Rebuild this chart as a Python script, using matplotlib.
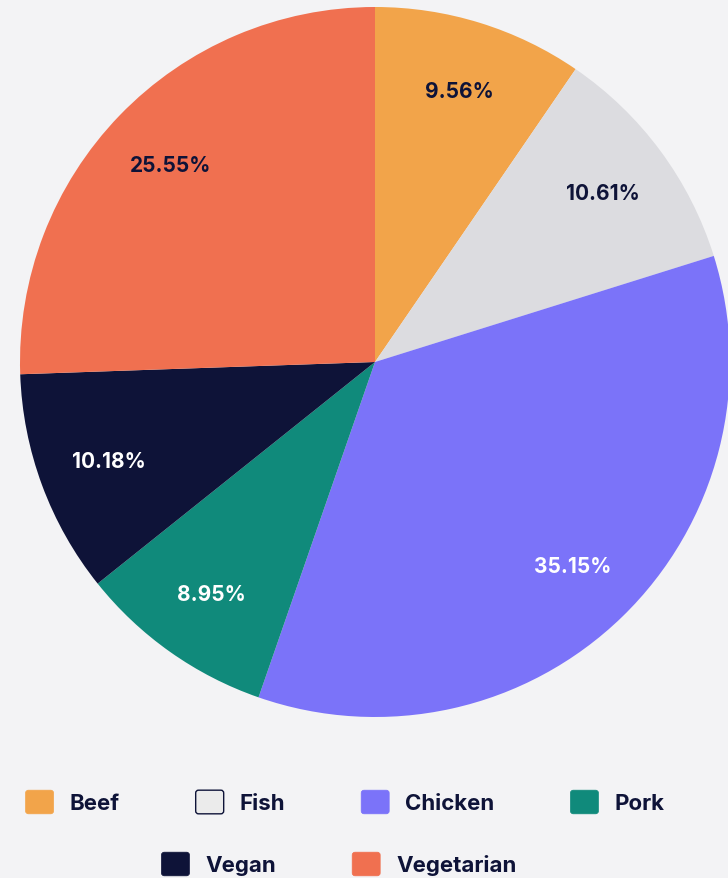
import matplotlib
matplotlib.use('Agg')
import matplotlib.pyplot as plt
from matplotlib.patches import FancyBboxPatch, Patch
from matplotlib.legend_handler import HandlerPatch

# ---- data ----
categories = ['Beef', 'Fish', 'Chicken', 'Pork', 'Vegan', 'Vegetarian']
shares = [9.56, 10.61, 35.15, 8.95, 10.18, 25.55]

# ---- styles ----
colors = ['#F2A44A', '#DCDCE0', '#7B73F9', '#108A7B', '#0E1338', '#F07050']
legend_colors = ['#F2A44A', '#EBEBEB', '#7B73F9', '#108A7B', '#0E1338', '#F07050']
label_colors = ['#0E1338', '#0E1338', 'white', 'white', 'white', '#0E1338']
navy = '#0E1338'
bg = '#F3F3F5'

plt.rcParams['font.family'] = ['Inter', 'DejaVu Sans']

fig = plt.figure(figsize=(7.28, 8.79), dpi=100, facecolor=bg)
ax = fig.add_axes([20 / 728, 161 / 879, 710 / 728, 710 / 879])
ax.set_facecolor('none')

wedges, texts, autotexts = ax.pie(
    shares, colors=colors, startangle=90, counterclock=False,
    autopct='%.2f%%', pctdistance=0.8, radius=1,
    wedgeprops=dict(linewidth=0),
    textprops=dict(fontsize=15, fontweight='bold'))
for t, c in zip(autotexts, label_colors):
    t.set_color(c)
ax.set_xlim(-1, 1)
ax.set_ylim(-1, 1)
ax.set_aspect('equal')


class RoundHandler(HandlerPatch):
    def create_artists(self, legend, orig_handle, xdescent, ydescent,
                       width, height, fontsize, trans):
        p = FancyBboxPatch((-xdescent, -ydescent), width, height,
                           boxstyle='round,pad=0,rounding_size=%f' % (height * 0.12),
                           facecolor=orig_handle.get_facecolor(),
                           edgecolor=orig_handle.get_edgecolor(),
                           linewidth=orig_handle.get_linewidth())
        p.set_transform(trans)
        return [p]


handles = []
for name, col in zip(categories, legend_colors):
    if name == 'Fish':
        handles.append(Patch(facecolor=col, edgecolor=navy, linewidth=1, label=name))
    else:
        handles.append(Patch(facecolor=col, edgecolor=col, linewidth=0.5, label=name))

fs = 16
fs_px = fs * 100 / 72
common = dict(frameon=False, prop=dict(weight='bold', size=fs), labelcolor=navy,
              handlelength=28 / fs_px, handleheight=28 / fs_px,
              handletextpad=16 / fs_px, columnspacing=76 / fs_px,
              borderpad=0, borderaxespad=0, loc='center',
              handler_map={Patch: RoundHandler()})

fig.legend(handles[:4], categories[:4], ncol=4,
           bbox_to_anchor=(345 / 728, (879 - 803) / 879), **common)
fig.legend(handles[4:], categories[4:], ncol=2,
           bbox_to_anchor=(339 / 728, (879 - 865) / 879), **common)

fig.savefig('out.png', dpi=100, facecolor=bg)
